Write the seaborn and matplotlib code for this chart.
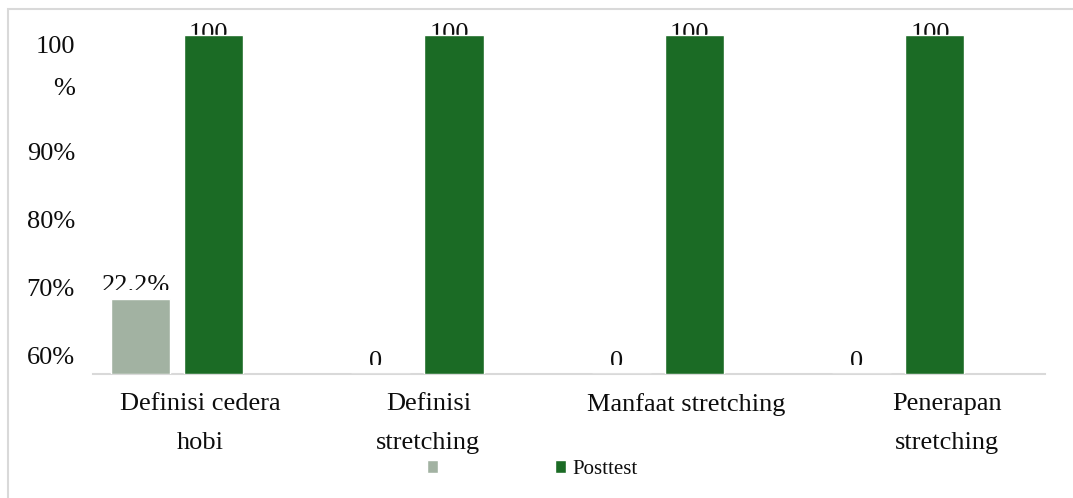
import pandas as pd
import seaborn as sns
import matplotlib.pyplot as plt
from matplotlib.patches import Rectangle
from matplotlib.transforms import ScaledTranslation

# data
categories = ['Definisi cedera\nhobi', 'Definisi\nstretching', 'Manfaat stretching', 'Penerapan\nstretching']
series = ['Pretest', 'Posttest']
pretest = [22.2, 0, 0, 0]
posttest = [100, 100, 100, 100]
pretest_labels = ['22.2%', '0', '0', '0']
posttest_labels = ['100', '100', '100', '100']
ytick_labels = ['60%', '70%', '80%', '90%', '100\n%']
legend_labels = ['', 'Posttest']

# layout bits (Excel put the labels at odd places)
ytick_pos = [5.5, 25.5, 45.5, 65.5, 94.0]
xlabel_shift_px = [23, 11, 28, 49]
fs = 19

df = pd.DataFrame({
    'kategori': categories * 2,
    'nilai': pretest + posttest,
    'seri': [series[0]] * len(categories) + [series[1]] * len(categories),
})

sns.set_theme(style='white')
plt.rcParams['font.family'] = ['Liberation Serif', 'DejaVu Serif']
plt.rcParams['text.color'] = '#0d0d0d'

fig = plt.figure(figsize=(10.73, 4.98), dpi=100)
ax = fig.add_axes([0.0867, 0.249, 0.887, 0.749])

sns.barplot(data=df, x='kategori', y='nilai', hue='seri',
            palette=['#a2b2a2', '#1b6b25'], width=0.608, gap=0.19,
            saturation=1, errorbar=None, ax=ax, zorder=3)

ax.set_xlim(-0.349, 3.609)
ax.set_ylim(0, 110)

# value labels, cut at the bottom like in the original
for cont, vals, labs, dy, cut in [(ax.containers[0], pretest, pretest_labels, 1.9, 2.6),
                                  (ax.containers[1], posttest, posttest_labels, -1.5, None)]:
    for p, v, lab in zip(cont.patches, vals, labs):
        xc = p.get_x() + p.get_width() / 2 - 0.02
        t = ax.text(xc, v + dy, lab, ha='center', va='baseline', fontsize=fs,
                    zorder=2, clip_on=cut is not None)
        if cut is not None:
            t.set_clip_path(Rectangle((xc - 0.5, v + cut), 1, 200, transform=ax.transData))

sns.despine(ax=ax, left=True)
ax.spines['bottom'].set_color('#d9d9d9')
ax.spines['bottom'].set_linewidth(1.5)

ax.set_xlabel('')
ax.set_ylabel('')
ax.set_yticks(ytick_pos, ytick_labels)
ax.tick_params(axis='y', length=0, pad=13, labelsize=fs, labelcolor='#0d0d0d')
ax.tick_params(axis='x', length=0, pad=14, labelsize=fs, labelcolor='#0d0d0d')
for lab in ax.get_yticklabels():
    lab.set_linespacing(2.2)
for lab, dx in zip(ax.get_xticklabels(), xlabel_shift_px):
    lab.set_linespacing(1.95)
    lab.set_transform(lab.get_transform() + ScaledTranslation(dx / 100, 0, fig.dpi_scale_trans))

handles, _ = ax.get_legend_handles_labels()
ax.legend(handles, legend_labels, loc='center', bbox_to_anchor=(0.496, 0.058),
          bbox_transform=fig.transFigure, ncol=2, frameon=False, fontsize=15,
          handlelength=0.55, handleheight=0.55, handletextpad=0.3, columnspacing=5.3)

# light frame round the chart
fig.patches.append(Rectangle((8 / 1073, -0.05), 1.1, 1 - 9 / 498 + 0.05,
                             transform=fig.transFigure, fill=False,
                             ec='#d9d9d9', lw=1.5))

fig.savefig('out.png', dpi=100)
